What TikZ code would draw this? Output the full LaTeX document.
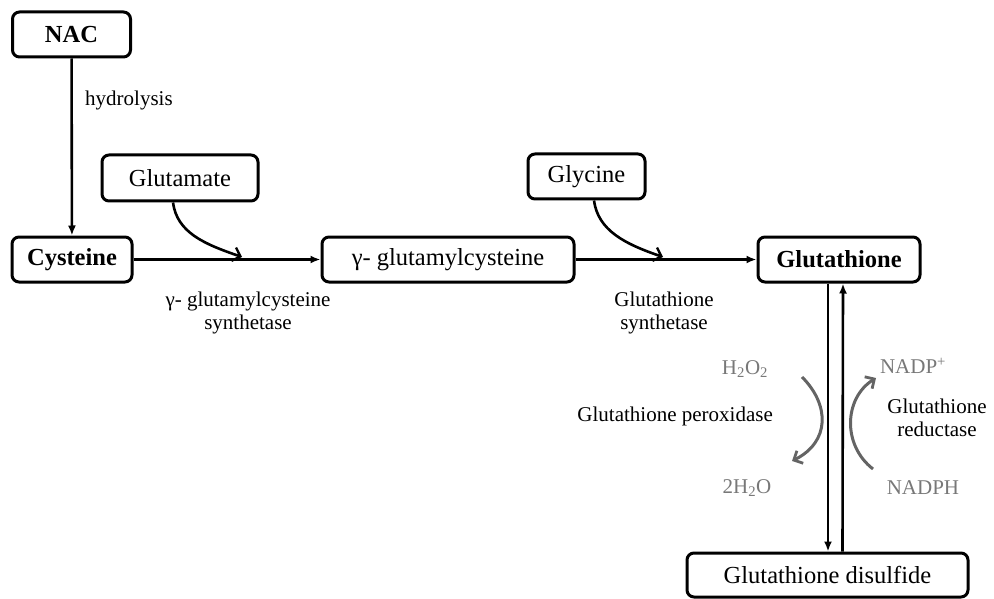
\documentclass[tikz,border=0pt]{standalone}
\usepackage{fontspec}
\setmainfont{Liberation Serif}
\usetikzlibrary{arrows.meta}
\definecolor{txtgray}{RGB}{120,120,120}
\definecolor{arrgray}{RGB}{100,100,100}
\tikzset{
  box/.style={draw, line width=3pt, rounded corners=7pt, inner sep=0pt, font=\fontsize{24.5}{28}\selectfont},
  lbl/.style={font=\fontsize{21}{23}\selectfont, align=center, inner sep=0pt},
  glbl/.style={lbl, text=txtgray},
  arr/.style={line width=2.6pt, -{Latex[length=10pt,width=8pt]}},
  curvarr/.style={line width=2.6pt, -{Straight Barb[length=7pt,width=14pt,line width=2.4pt]}},
  grayarr/.style={line width=3pt, draw=arrgray, -{Straight Barb[length=7pt,width=14pt,line width=2.8pt]}}
}
\begin{document}
\begin{tikzpicture}[x=1pt,y=-1pt]
\useasboundingbox (0,0) rectangle (994,599);
% boxes
\node[box, minimum width=118pt, minimum height=45pt, font=\fontsize{24.5}{28}\selectfont\bfseries] (nac) at (71.5,34.5) {NAC};
\node[box, minimum width=120pt, minimum height=45pt, font=\fontsize{24.5}{28}\selectfont\bfseries] (cys) at (72,259.5) {Cysteine};
\node[box, minimum width=156pt, minimum height=46pt] (glu) at (180,178) {Glutamate};
\node[box, minimum width=252pt, minimum height=45pt] (gglu) at (448,259.5) {γ- glutamylcysteine};
\node[box, minimum width=117pt, minimum height=45pt] (gly) at (586.5,176.5) {Glycine};
\node[box, minimum width=162pt, minimum height=45pt, font=\fontsize{24.5}{28}\selectfont\bfseries] (gsh) at (839,259.5) {Glutathione};
\node[box, minimum width=281pt, minimum height=44pt] (gssg) at (827.5,575) {Glutathione disulfide};
% coordinates where curved arrows meet the main line
\coordinate (m1) at (242,257);
\coordinate (m2) at (663,257);
% arrows
\draw[arr] (nac) -- (cys);
\draw[arr] (cys) -- (gglu);
\draw[arr] (gglu) -- (gsh);
\draw[curvarr] ([xshift=-7pt]glu.south) .. controls +(4,30) and +(-38,-13) .. (m1);
\draw[curvarr] ([xshift=7.5pt]gly.south) .. controls +(4,30) and +(-38,-13) .. (m2);
\draw[arr] ([xshift=-11pt]gsh.south) -- ([xshift=0.5pt]gssg.north);
\draw[arr] ([xshift=15pt]gssg.north) -- ([xshift=4pt]gsh.south);
% gray cofactor arrows
\coordinate (p1) at (802,377);
\coordinate (p2) at (792,461);
\coordinate (q1) at (873,469);
\coordinate (q2) at (876,378);
\draw[grayarr] (p1) .. controls (830,405) and (830,442) .. (p2);
\draw[grayarr] (q1) .. controls (842,445) and (844,398) .. (q2);
% labels
\node[lbl, anchor=west] (hyd) at (85,100) {hydrolysis};
\node[lbl] (gcs) at (248,312.5) {γ- glutamylcysteine\\synthetase};
\node[lbl] (gs) at (664,313) {Glutathione\\synthetase};
\node[glbl] (h2o2) at (745,369) {H\textsubscript{2}O\textsubscript{2}};
\node[glbl] (nadp) at (913,366) {NADP\textsuperscript{+}};
\node[lbl, anchor=east] (gpx) at (773,416) {Glutathione peroxidase};
\node[lbl] (gr) at (937,418) {Glutathione\\reductase};
\node[glbl] (h2o) at (747,488) {2H\textsubscript{2}O};
\node[glbl] (nadph) at (923,488) {NADPH};
\end{tikzpicture}
\end{document}
